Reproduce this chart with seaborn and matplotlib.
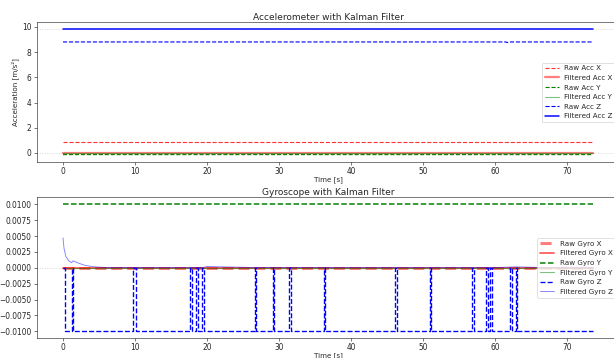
import numpy as np
import pandas as pd
import matplotlib
matplotlib.use("Agg")
import matplotlib.pyplot as plt
import seaborn as sns

# ---------------- data ----------------
t_end = 73.6

# Accelerometer (constant-ish levels, with small bumps)
acc_t = [0.0, 73.6]
raw_acc_x = [0.85, 0.85]
filt_acc_x = [0.0, 0.0]
raw_acc_y_t = [0.0, 17.7, 17.9, 18.1, 73.6]
raw_acc_y = [-0.13, -0.13, -0.05, -0.13, -0.13]
filt_acc_y = [0.0, 0.0]
raw_acc_z_t = [0.0, 61.5, 61.7, 61.9, 73.6]
raw_acc_z = [8.81, 8.81, 8.76, 8.81, 8.81]
filt_acc_z = [9.81, 9.81]

# Gyroscope
raw_gyro_x = [0.0, 0.0]
filt_gyro_x = [0.0, 0.0]
raw_gyro_y = [0.01, 0.01]
filt_gyro_y = [0.0, 0.0]
gyro_z_base = -0.01
gyro_z_spike_start = [0.0, 1.2, 9.75, 17.7, 18.45, 19.35, 26.6, 29.15, 31.45,
                      36.25, 46.15, 50.95, 56.85, 58.8, 59.35, 62.15, 62.85]
gyro_z_spike_width = [0.25, 0.2, 0.4, 0.25, 0.25, 0.2, 0.2, 0.2, 0.2,
                      0.2, 0.2, 0.2, 0.2, 0.25, 0.25, 0.2, 0.2]
filt_gyro_z_t = [0.0, 0.15, 0.4, 0.8, 1.2, 1.4, 2.0, 3.0, 4.0, 5.0, 6.0,
                 10.0, 19.4, 20.0, 22.0, 26.0, 40.0, 60.0, 63.0, 66.0, 73.6]
filt_gyro_z = [0.0047, 0.0030, 0.0018, 0.0011, 0.0008, 0.0011, 0.0008, 0.0004,
               0.0002, 0.0001, 0.00005, 0.00003, 0.00003, 0.0002, 0.00015,
               0.00005, 0.00003, 0.00003, 0.00015, 0.00005, 0.00003]

# build raw gyro Z step series from spike data
gz_t, gz_v = [], []
for s, w in zip(gyro_z_spike_start, gyro_z_spike_width):
    if s == 0.0:
        gz_t += [0.0, w, w]
        gz_v += [0.0, 0.0, gyro_z_base]
    else:
        gz_t += [s, s, s + w, s + w]
        gz_v += [gyro_z_base, 0.0, 0.0, gyro_z_base]
gz_t.append(t_end)
gz_v.append(gyro_z_base)

# ---------------- style ----------------
sns.set_style("ticks")
plt.rcParams['font.family'] = ['DejaVu Sans']
plt.rcParams['xtick.labelsize'] = 10
plt.rcParams['ytick.labelsize'] = 10
plt.rcParams['xtick.major.pad'] = 2.5
plt.rcParams['axes.labelsize'] = 9.5
plt.rcParams['axes.titlesize'] = 12
plt.rcParams['legend.fontsize'] = 9.5

DPI = 54
fig = plt.figure(figsize=(614 / DPI, 358 / DPI), dpi=DPI)
ax1 = fig.add_axes([36.5 / 614, 1 - 162.3 / 358, 582.9 / 614, 140 / 358])
ax2 = fig.add_axes([36.5 / 614, 1 - 338.3 / 358, 582.9 / 614, 141 / 358])

kw = dict(estimator=None, sort=False)

def line(ax, x, y, **k):
    sns.lineplot(x=np.asarray(x, float), y=np.asarray(y, float), ax=ax, **kw, **k)

# Accelerometer
ax1.axhline(0, color='lightgray', ls=':', lw=1.2, zorder=0)
ax1.axhline(9.81, color='lightgray', ls=':', lw=1.2, zorder=0)
line(ax1, acc_t, raw_acc_x, color='red', ls='--', lw=1.5, alpha=0.8, label='Raw Acc X')
line(ax1, acc_t, filt_acc_x, color='red', lw=3, alpha=0.5, label='Filtered Acc X')
line(ax1, raw_acc_y_t, raw_acc_y, color='green', ls='--', lw=1.5, label='Raw Acc Y')
line(ax1, acc_t, filt_acc_y, color='green', lw=1.5, alpha=0.5, label='Filtered Acc Y')
line(ax1, raw_acc_z_t, raw_acc_z, color='blue', ls='--', lw=1.5, label='Raw Acc Z')
line(ax1, acc_t, filt_acc_z, color='blue', lw=2, label='Filtered Acc Z')
ax1.set_xlim(-3.68, 77.28)
ax1.set_ylim(-0.74, 10.37)
ax1.set_title('Accelerometer with Kalman Filter', pad=2)
ax1.set_xlabel('Time [s]', labelpad=1)
ax1.set_ylabel('Acceleration [m/s²]')
ax1.legend(loc='center right')

# Gyroscope
ax2.axhline(0, color='lightgray', ls=':', lw=1.2, zorder=0)
line(ax2, acc_t, raw_gyro_x, color='red', ls='--', lw=4, alpha=0.5, label='Raw Gyro X')
line(ax2, acc_t, filt_gyro_x, color='red', lw=2.5, alpha=0.6, label='Filtered Gyro X')
line(ax2, acc_t, raw_gyro_y, color='green', ls='--', lw=2, label='Raw Gyro Y')
line(ax2, acc_t, filt_gyro_y, color='green', lw=1.5, alpha=0.5, label='Filtered Gyro Y')
line(ax2, gz_t, gz_v, color='blue', ls='--', lw=1.8, label='Raw Gyro Z')
line(ax2, filt_gyro_z_t, filt_gyro_z, color='blue', lw=1.2, alpha=0.5, label='Filtered Gyro Z')
ax2.set_xlim(-3.68, 77.28)
ax2.set_ylim(-0.0111, 0.0111)
ax2.set_yticks([-0.01, -0.0075, -0.005, -0.0025, 0, 0.0025, 0.005, 0.0075, 0.01])
ax2.set_yticklabels(['−0.0100', '−0.0075', '−0.0050', '−0.0025', '0.0000',
                     '0.0025', '0.0050', '0.0075', '0.0100'])
ax2.set_title('Gyroscope with Kalman Filter', pad=2)
ax2.set_xlabel('Time [s]', labelpad=0)
ax2.set_ylabel('')
ax2.legend(loc='center right')

fig.savefig('out.png', dpi=DPI)
